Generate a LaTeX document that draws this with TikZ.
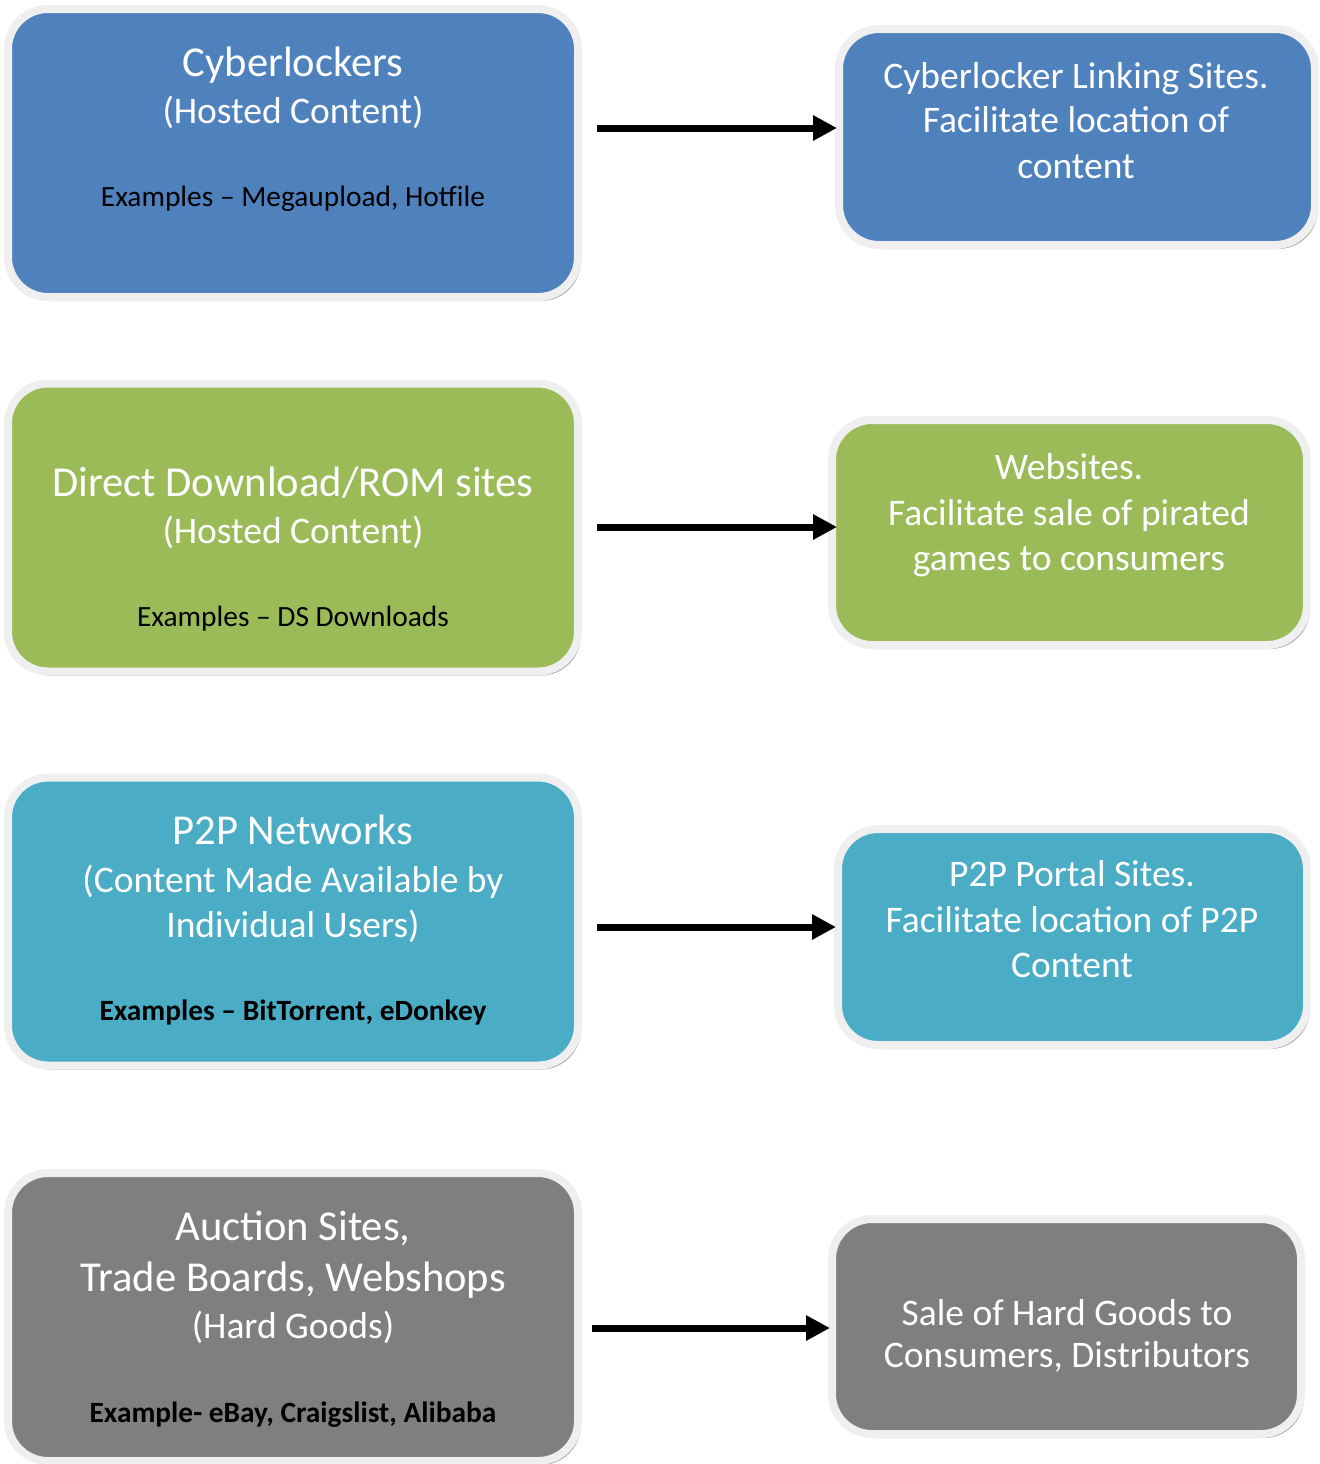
\documentclass[tikz,border=0pt]{standalone}
\usepackage{fontspec}
\setmainfont{Carlito}
\usetikzlibrary{arrows.meta,shadows}
\definecolor{cblue}{HTML}{4F81BD}
\definecolor{cgreen}{HTML}{9BBB59}
\definecolor{cteal}{HTML}{4BACC6}
\definecolor{cgray}{HTML}{7F7F7F}
\definecolor{boxedge}{HTML}{EFEFEF}
\definecolor{shadowgray}{HTML}{A8A8A8}
\begin{document}
\begin{tikzpicture}[x=0.5pt,y=-0.5pt,
  box/.style={rounded corners=20pt, draw=boxedge, line width=4pt, outer sep=0pt, inner sep=0pt,
    general shadow={fill=shadowgray, shadow xshift=1.5pt, shadow yshift=-2pt}},
  lbox/.style={box, minimum width=285pt, minimum height=144pt},
  ttl/.style={anchor=base, text=white, inner sep=0pt, font=\fontsize{21.3pt}{25pt}\selectfont},
  sub/.style={anchor=base, text=white, inner sep=0pt, font=\fontsize{18.75pt}{22pt}\selectfont},
  ex/.style={anchor=base, text=black, inner sep=0pt, font=\fontsize{14.7pt}{17pt}\selectfont},
  exb/.style={ex, font=\fontsize{14.7pt}{17pt}\selectfont\bfseries},
  arr/.style={line width=3.5pt, -{Triangle[length=12pt,width=12pt]}, shorten <=9.5pt, shorten >=1pt}]
\useasboundingbox (0,0) rectangle (1320,1464);

% left boxes
\node[lbox, fill=cblue]  (L1) at (293,153) {};
\node[lbox, fill=cgreen] (L2) at (293,527.5) {};
\node[lbox, fill=cteal]  (L3) at (293,921.5) {};
\node[lbox, fill=cgray]  (L4) at (293,1317) {};

% right boxes
\node[box, fill=cblue,  minimum width=238pt,   minimum height=108pt]   (R1) at (1077,137) {};
\node[box, fill=cgreen, minimum width=237.5pt, minimum height=112.5pt] (R2) at (1069.5,532.5) {};
\node[box, fill=cteal,  minimum width=234.5pt, minimum height=108pt]   (R3) at (1072.5,937) {};
\node[box, fill=cgray,  minimum width=234.5pt, minimum height=107.5pt] (R4) at (1066.5,1326.5) {};

% left texts
\node[ttl] (t1a) at (293,76)  {Cyberlockers};
\node[sub] (t1b) at (293,123) {(Hosted Content)};
\node[ex]  (t1c) at (293,206) {Examples – Megaupload, Hotfile};

\node[ttl] (t2a) at (293,496) {Direct Download/ROM sites};
\node[sub] (t2b) at (293,543) {(Hosted Content)};
\node[ex]  (t2c) at (293,626) {Examples – DS Downloads};

\node[ttl] (t3a) at (293,844)  {P2P Networks};
\node[sub] (t3b) at (293,892)  {(Content Made Available by};
\node[sub] (t3c) at (293,937)  {Individual Users)};
\node[exb] (t3d) at (293,1020) {Examples – BitTorrent, eDonkey};

\node[ttl] (t4a) at (293,1240) {Auction Sites,};
\node[ttl] (t4b) at (293,1291) {Trade Boards, Webshops};
\node[sub] (t4c) at (293,1338) {(Hard Goods)};
\node[exb] (t4d) at (293,1422) {Example- eBay, Craigslist, Alibaba};

% right texts
\node[sub] (r1a) at (1076,88)  {Cyberlocker Linking Sites.};
\node[sub] (r1b) at (1076,132) {Facilitate location of};
\node[sub] (r1c) at (1076,178) {content};

\node[sub] (r2a) at (1069,479) {Websites.};
\node[sub] (r2b) at (1069,525) {Facilitate sale of pirated};
\node[sub] (r2c) at (1069,570) {games to consumers};

\node[sub] (r3a) at (1072,886) {P2P Portal Sites.};
\node[sub] (r3b) at (1072,932) {Facilitate location of P2P};
\node[sub] (r3c) at (1072,977) {Content};

\node[sub] (r4a) at (1067,1325) {Sale of Hard Goods to};
\node[sub] (r4b) at (1067,1367) {Consumers, Distributors};

% arrows
\coordinate (a1) at (700,128);
\coordinate (a2) at (700,527);
\coordinate (a3) at (700,927);
\coordinate (a4) at (700,1328);
\draw[arr] (L1.east |- a1) -- (R1.west |- a1);
\draw[arr, shorten >=-2.5pt] (L2.east |- a2) -- (R2.west |- a2);
\draw[arr] (L3.east |- a3) -- (R3.west |- a3);
\draw[arr, shorten <=7pt] (L4.east |- a4) -- (R4.west |- a4);
\end{tikzpicture}
\end{document}
